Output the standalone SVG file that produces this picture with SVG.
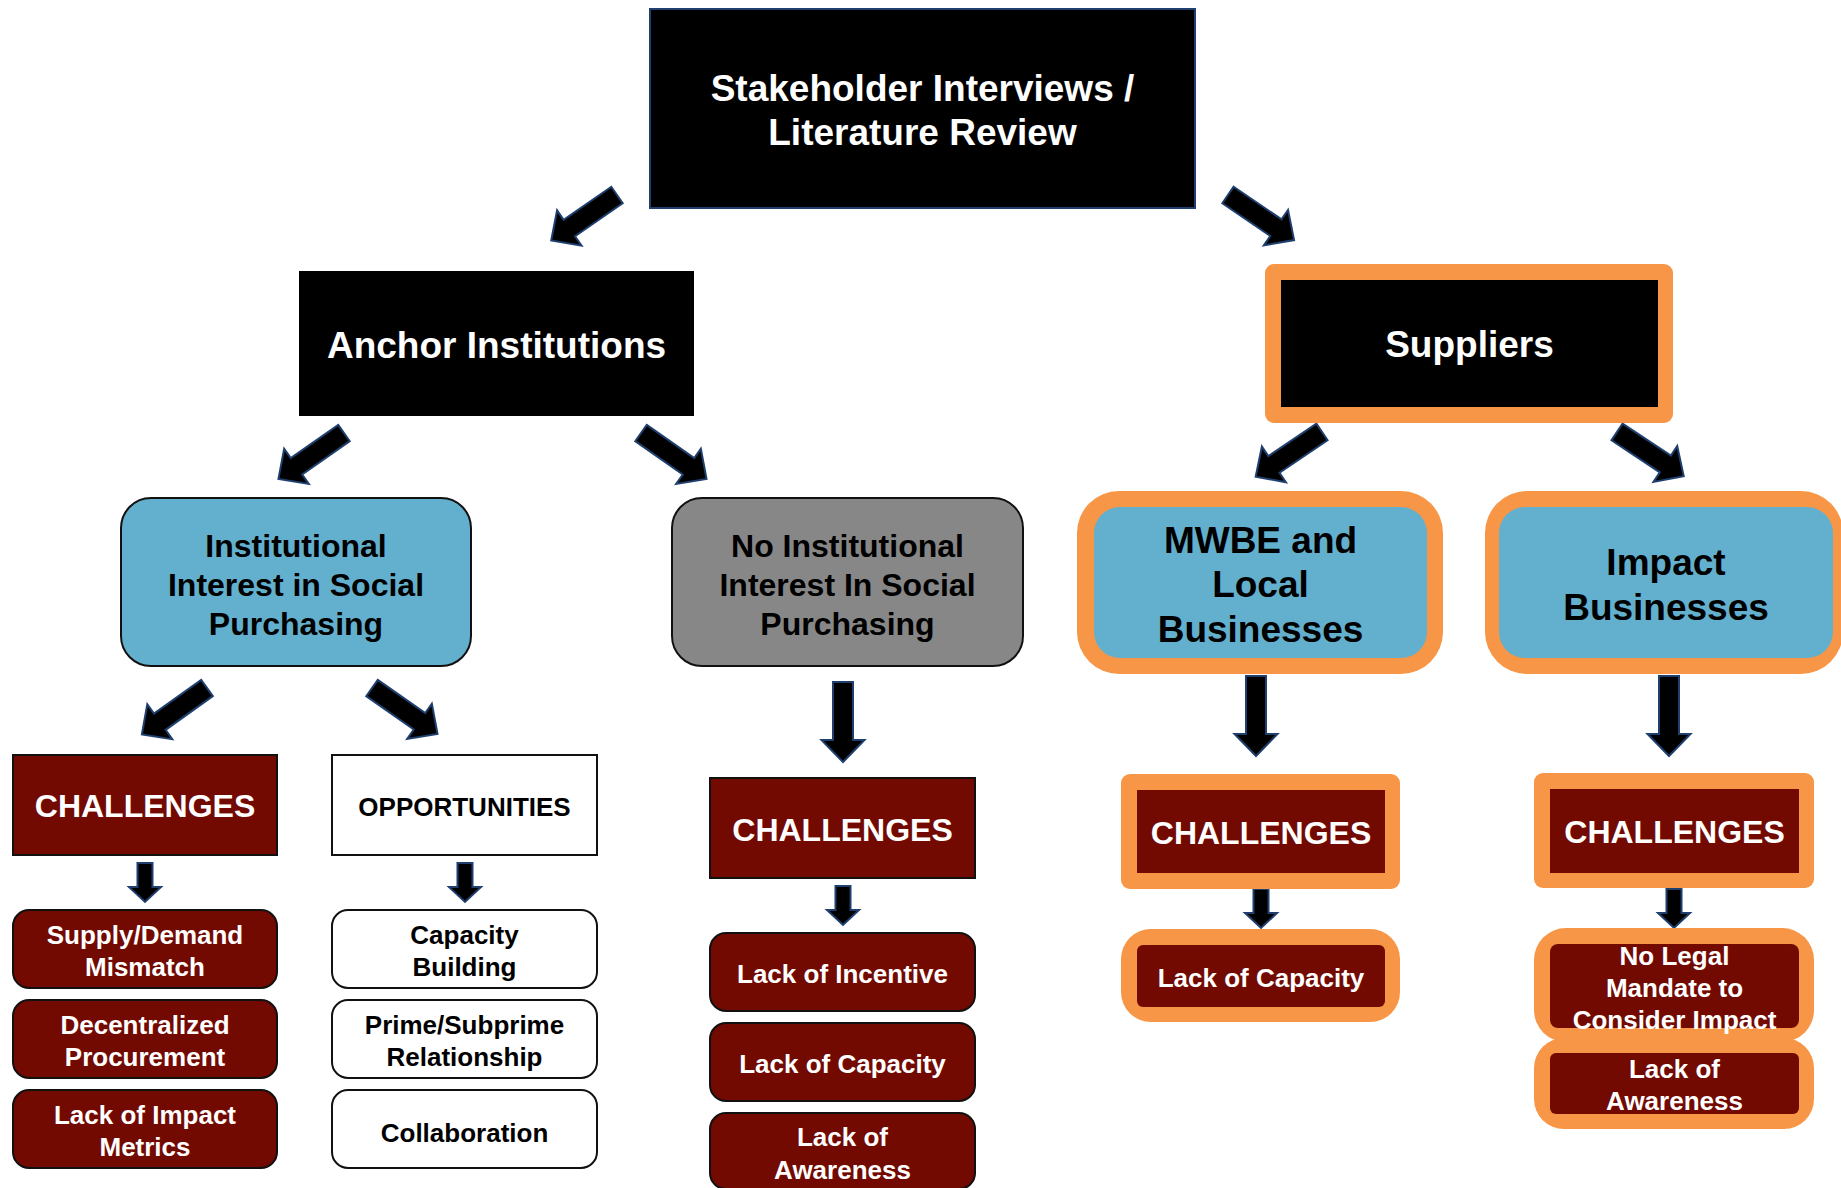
<svg xmlns="http://www.w3.org/2000/svg" xmlns:xlink="http://www.w3.org/1999/xlink" width="1841" height="1188" viewBox="0 0 1841 1188">
  <style>
    text { font-family: "Liberation Sans", Arial, sans-serif; font-weight: bold; text-anchor: middle; }
    .w { fill: #ffffff; }
    .k { fill: #000000; }
    .t37 { font-size: 37px; }
    .t32 { font-size: 32px; }
    .t26 { font-size: 26px; }
    .black { fill: #000000; }
    .blue { fill: #63B0CE; }
    .gray { fill: #878787; }
    .red { fill: #730A01; }
    .orange { fill: #F79646; }
    .edge { stroke: #111111; stroke-width: 2; }
    .arrow { fill: #000000; stroke: #1F3F6E; stroke-width: 2; stroke-linejoin: miter; }
  </style>
  <defs>
    <!-- block arrows drawn along +x from the tail at the origin -->
    <path id="bigArrow" d="M0,-10 H58 V-21.5 L80,0 L58,21.5 V10 H0 Z"/>
    <path id="smallArrow" d="M0,-7.5 H24 V-16 L39,0 L24,16 V7.5 H0 Z"/>
  </defs>

  <rect width="1841" height="1188" fill="#ffffff"/>

  <!-- connectors -->
  <g id="connectors" class="arrow">
    <use xlink:href="#bigArrow" transform="translate(617,195) rotate(145.3)"/>
    <use xlink:href="#bigArrow" transform="translate(1228,195) rotate(34.3)"/>
    <use xlink:href="#bigArrow" transform="translate(344,433) rotate(145)"/>
    <use xlink:href="#bigArrow" transform="translate(641,433) rotate(35)"/>
    <use xlink:href="#bigArrow" transform="translate(1322,432) rotate(146)"/>
    <use xlink:href="#bigArrow" transform="translate(1617,432) rotate(33.5)"/>
    <use xlink:href="#bigArrow" transform="translate(207,688) rotate(144.5)"/>
    <use xlink:href="#bigArrow" transform="translate(372,688) rotate(35)"/>
    <use xlink:href="#bigArrow" transform="translate(843,682) rotate(90)"/>
    <use xlink:href="#bigArrow" transform="translate(1256,676) rotate(90)"/>
    <use xlink:href="#bigArrow" transform="translate(1669,676) rotate(90)"/>
    <use xlink:href="#smallArrow" transform="translate(145,863) rotate(90)"/>
    <use xlink:href="#smallArrow" transform="translate(465,863) rotate(90)"/>
    <use xlink:href="#smallArrow" transform="translate(843,886) rotate(90)"/>
    <use xlink:href="#smallArrow" transform="translate(1261,889) rotate(90)"/>
    <use xlink:href="#smallArrow" transform="translate(1674,889) rotate(90)"/>
  </g>

  <!-- top level -->
  <g id="stakeholder">
    <rect x="650" y="9" width="545" height="199" class="black" stroke="#1F3F6E" stroke-width="2"/>
    <text class="w t37" x="922.5" y="101">Stakeholder Interviews /</text>
    <text class="w t37" x="922.5" y="145">Literature Review</text>
  </g>

  <!-- second level -->
  <g id="anchor">
    <rect x="299" y="271" width="395" height="145" class="black"/>
    <text class="w t37" x="496.5" y="358">Anchor Institutions</text>
  </g>
  <g id="suppliers">
    <rect x="1265" y="264" width="408" height="159" rx="9" class="orange"/>
    <rect x="1281" y="280" width="377" height="127" class="black"/>
    <text class="w t37" x="1469.5" y="357">Suppliers</text>
  </g>

  <!-- third level -->
  <g id="interest">
    <rect x="121" y="498" width="350" height="168" rx="30" class="blue edge"/>
    <text class="k t32" x="296" y="557">Institutional</text>
    <text class="k t32" x="296" y="596">Interest in Social</text>
    <text class="k t32" x="296" y="635">Purchasing</text>
  </g>
  <g id="no-interest">
    <rect x="672" y="498" width="351" height="168" rx="30" class="gray edge"/>
    <text class="k t32" x="847.5" y="557">No Institutional</text>
    <text class="k t32" x="847.5" y="596">Interest In Social</text>
    <text class="k t32" x="847.5" y="635">Purchasing</text>
  </g>
  <g id="mwbe">
    <rect x="1077" y="491" width="366" height="183" rx="42" class="orange"/>
    <rect x="1094" y="507" width="333" height="151" rx="26" class="blue"/>
    <text class="k t37" x="1260.5" y="553">MWBE and</text>
    <text class="k t37" x="1260.5" y="597">Local</text>
    <text class="k t37" x="1260.5" y="642">Businesses</text>
  </g>
  <g id="impact">
    <rect x="1485" y="491" width="358" height="183" rx="42" class="orange"/>
    <rect x="1499" y="507" width="334" height="151" rx="26" class="blue"/>
    <text class="k t37" x="1666" y="575">Impact</text>
    <text class="k t37" x="1666" y="620">Businesses</text>
  </g>

  <!-- interest branch -->
  <g id="challenges-interest">
    <rect x="13" y="755" width="264" height="100" class="red edge"/>
    <text class="w t32" x="145" y="817">CHALLENGES</text>
  </g>
  <g id="opportunities">
    <rect x="332" y="755" width="265" height="100" fill="#ffffff" class="edge"/>
    <text class="k t26" x="464.5" y="816">OPPORTUNITIES</text>
  </g>
  <g id="supply-demand">
    <rect x="13" y="910" width="264" height="78" rx="16" class="red edge"/>
    <text class="w t26" x="145" y="944">Supply/Demand</text>
    <text class="w t26" x="145" y="976">Mismatch</text>
  </g>
  <g id="decentralized">
    <rect x="13" y="1000" width="264" height="78" rx="16" class="red edge"/>
    <text class="w t26" x="145" y="1034">Decentralized</text>
    <text class="w t26" x="145" y="1066">Procurement</text>
  </g>
  <g id="impact-metrics">
    <rect x="13" y="1090" width="264" height="78" rx="16" class="red edge"/>
    <text class="w t26" x="145" y="1124">Lack of Impact</text>
    <text class="w t26" x="145" y="1156">Metrics</text>
  </g>
  <g id="capacity-building">
    <rect x="332" y="910" width="265" height="78" rx="16" fill="#ffffff" class="edge"/>
    <text class="k t26" x="464.5" y="944">Capacity</text>
    <text class="k t26" x="464.5" y="976">Building</text>
  </g>
  <g id="prime-subprime">
    <rect x="332" y="1000" width="265" height="78" rx="16" fill="#ffffff" class="edge"/>
    <text class="k t26" x="464.5" y="1034">Prime/Subprime</text>
    <text class="k t26" x="464.5" y="1066">Relationship</text>
  </g>
  <g id="collaboration">
    <rect x="332" y="1090" width="265" height="78" rx="16" fill="#ffffff" class="edge"/>
    <text class="k t26" x="464.5" y="1142">Collaboration</text>
  </g>

  <!-- no-interest branch -->
  <g id="challenges-no-interest">
    <rect x="710" y="778" width="265" height="100" class="red edge"/>
    <text class="w t32" x="842.5" y="841">CHALLENGES</text>
  </g>
  <g id="incentive">
    <rect x="710" y="933" width="265" height="78" rx="16" class="red edge"/>
    <text class="w t26" x="842.5" y="983">Lack of Incentive</text>
  </g>
  <g id="capacity-institutions">
    <rect x="710" y="1023" width="265" height="78" rx="16" class="red edge"/>
    <text class="w t26" x="842.5" y="1073">Lack of Capacity</text>
  </g>
  <g id="awareness-institutions">
    <rect x="710" y="1113" width="265" height="76" rx="16" class="red edge"/>
    <text class="w t26" x="842.5" y="1146">Lack of</text>
    <text class="w t26" x="842.5" y="1179">Awareness</text>
  </g>

  <!-- MWBE branch -->
  <g id="challenges-mwbe">
    <rect x="1121" y="774" width="279" height="115" rx="9" class="orange"/>
    <rect x="1137" y="790" width="248" height="83" class="red"/>
    <text class="w t32" x="1261" y="844">CHALLENGES</text>
  </g>
  <g id="capacity-mwbe">
    <rect x="1121" y="929" width="279" height="93" rx="30" class="orange"/>
    <rect x="1137" y="945" width="248" height="62" rx="6" class="red"/>
    <text class="w t26" x="1261" y="987">Lack of Capacity</text>
  </g>

  <!-- impact branch -->
  <g id="challenges-impact">
    <rect x="1534" y="773" width="280" height="115" rx="9" class="orange"/>
    <rect x="1550" y="789" width="249" height="84" class="red"/>
    <text class="w t32" x="1674.5" y="843">CHALLENGES</text>
  </g>
  <g id="legal-mandate">
    <rect x="1534" y="928" width="280" height="114" rx="32" class="orange"/>
    <rect x="1550" y="944" width="249" height="84" rx="8" class="red"/>
    <text class="w t26" x="1674.5" y="965">No Legal</text>
    <text class="w t26" x="1674.5" y="997">Mandate to</text>
    <text class="w t26" x="1674.5" y="1029">Consider Impact</text>
  </g>
  <g id="awareness-impact">
    <rect x="1534" y="1038" width="280" height="91" rx="30" class="orange"/>
    <rect x="1550" y="1053" width="249" height="61" rx="6" class="red"/>
    <text class="w t26" x="1674.5" y="1078">Lack of</text>
    <text class="w t26" x="1674.5" y="1110">Awareness</text>
  </g>
</svg>
